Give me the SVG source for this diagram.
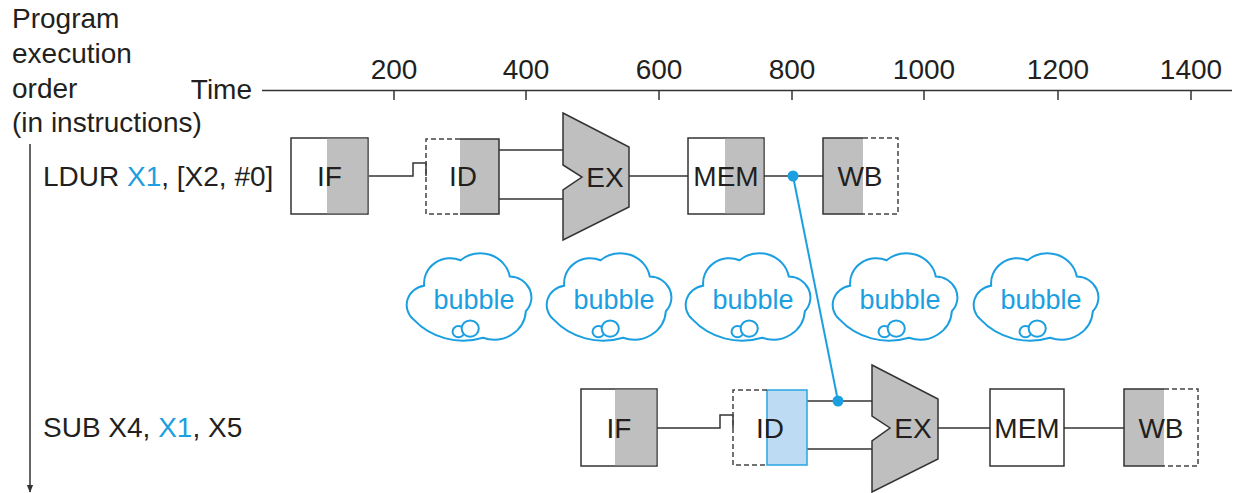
<svg xmlns="http://www.w3.org/2000/svg" width="1233" height="493" viewBox="0 0 1233 493">
<style>
text{font-family:"Liberation Sans",Arial,sans-serif;font-size:28px;fill:#231f20}
.c{text-anchor:middle}
.blue{fill:#1b9fe0}
.ln{stroke:#333;stroke-width:1.5;fill:none}
.box{stroke:#333;stroke-width:1.5;fill:#fff}
.gr{fill:#bebfbe}
.dash{stroke:#444;stroke-width:1.5;fill:none;stroke-dasharray:5 3}
.ex{fill:#bebfbe;stroke:#333;stroke-width:1.5}
.cloud{fill:#fff;stroke:#1b9fe0;stroke-width:2;vector-effect:non-scaling-stroke}
.bt{font-size:27px;fill:#1b9fe0;text-anchor:middle}
</style>
<defs>
<marker id="ah" viewBox="0 0 10 10" refX="9" refY="5" markerWidth="8" markerHeight="8" markerUnits="userSpaceOnUse" orient="auto"><path d="M0,1 L10,5 L0,9 Z" fill="#333"/></marker>
<g id="cloudshape">
<path class="cloud" d="M -50,20 A 19,19 0 0 1 -40,-13 A 24.5,24.5 0 0 1 -6,-38 A 28,28 0 0 1 40,-22 A 20.4,20.4 0 0 1 55,12 A 29.7,29.7 0 0 1 15,38 A 62,62 0 0 1 -50,20 Z"/>
<circle class="cloud" cx="-8" cy="32" r="5.5"/>
<circle class="cloud" cx="3" cy="29" r="8"/>
</g>
</defs>
<rect width="1233" height="493" fill="#fff"/>

<g id="labels">
<text x="12" y="28">Program</text>
<text x="12" y="63">execution</text>
<text x="12" y="98">order</text>
<text x="12" y="132">(in instructions)</text>
<text x="252" y="99" text-anchor="end">Time</text>
<text x="43" y="186">LDUR <tspan class="blue">X1</tspan>, [X2, #0]</text>
<text x="43" y="437">SUB X4, <tspan class="blue">X1</tspan>, X5</text>
</g>

<g id="axis">
<line class="ln" x1="262" y1="90.5" x2="1232" y2="90.5"/>
<g class="ln">
<line x1="394" y1="90.5" x2="394" y2="100"/>
<line x1="526" y1="90.5" x2="526" y2="100"/>
<line x1="659" y1="90.5" x2="659" y2="100"/>
<line x1="792" y1="90.5" x2="792" y2="100"/>
<line x1="924" y1="90.5" x2="924" y2="100"/>
<line x1="1058" y1="90.5" x2="1058" y2="100"/>
<line x1="1191" y1="90.5" x2="1191" y2="100"/>
</g>
<text class="c" x="394" y="79">200</text>
<text class="c" x="526" y="79">400</text>
<text class="c" x="659" y="79">600</text>
<text class="c" x="792" y="79">800</text>
<text class="c" x="924" y="79">1000</text>
<text class="c" x="1058" y="79">1200</text>
<text class="c" x="1191" y="79">1400</text>
<line class="ln" x1="30" y1="144" x2="30" y2="492" marker-end="url(#ah)"/>
</g>

<g id="connectors">
<polyline class="ln" points="369,176 413,176 413,163 426,163 426,176"/>
<line class="ln" x1="499" y1="150" x2="563" y2="150"/>
<line class="ln" x1="499" y1="199" x2="563" y2="199"/>
<line class="ln" x1="629" y1="176" x2="688" y2="176"/>
<line class="ln" x1="764" y1="176" x2="823" y2="176"/>
<polyline class="ln" points="657,428 720,428 720,415 733,415 733,428"/>
<line class="ln" x1="807" y1="401" x2="872" y2="401"/>
<line class="ln" x1="807" y1="449" x2="872" y2="449"/>
<line class="ln" x1="938" y1="428" x2="990" y2="428"/>
<line class="ln" x1="1064" y1="428" x2="1124" y2="428"/>
<line x1="793" y1="176" x2="838" y2="401" stroke="#1b9fe0" stroke-width="2"/>
<circle cx="793" cy="176" r="5.5" fill="#1b9fe0"/>
<circle cx="838" cy="401" r="5.5" fill="#1b9fe0"/>
</g>

<g id="if1">
<rect class="box" x="291" y="138" width="77" height="76"/>
<rect class="gr" x="327" y="138.75" width="40.25" height="74.5"/>
<text class="c" x="329.5" y="186">IF</text>
</g>
<g id="id1">
<rect class="gr" x="460" y="139" width="39" height="75"/>
<path class="dash" d="M460,139 H426 V214 H460"/>
<path class="ln" d="M460,139 H499 V214 H460"/>
<text class="c" x="463" y="186">ID</text>
</g>
<g id="ex1">
<polygon class="ex" points="563,113 629,147 629,207 563,240 563,190 582,177 563,165"/>
<text class="c" x="605" y="187">EX</text>
</g>
<g id="mem1">
<rect class="box" x="688" y="138" width="76" height="76"/>
<rect class="gr" x="725" y="138.75" width="38.25" height="74.5"/>
<text class="c" x="726" y="186">MEM</text>
</g>
<g id="wb1">
<rect class="gr" x="823" y="138" width="40" height="76"/>
<path class="ln" d="M863,138 H823 V214 H863"/>
<path class="dash" d="M863,138 H898 V214 H863"/>
<text class="c" x="860" y="186">WB</text>
</g>

<g id="bubbles">
<use href="#cloudshape" transform="translate(467,299) scale(1.07,1.02)"/>
<text class="bt" x="474" y="309">bubble</text>
<use href="#cloudshape" transform="translate(607,299) scale(1.07,1.02)"/>
<text class="bt" x="614" y="309">bubble</text>
<use href="#cloudshape" transform="translate(746,299) scale(1.07,1.02)"/>
<text class="bt" x="753" y="309">bubble</text>
<use href="#cloudshape" transform="translate(893,299) scale(1.07,1.02)"/>
<text class="bt" x="900" y="309">bubble</text>
<use href="#cloudshape" transform="translate(1034,299) scale(1.07,1.02)"/>
<text class="bt" x="1041" y="309">bubble</text>
</g>

<g id="if2">
<rect class="box" x="581" y="389" width="76" height="77"/>
<rect class="gr" x="615" y="389.75" width="41.25" height="75.5"/>
<text class="c" x="619" y="438">IF</text>
</g>
<g id="id2">
<rect x="767" y="390" width="40" height="75" fill="#bddcf4" stroke="#29a6e3" stroke-width="1.5"/>
<path class="dash" d="M767,390 H733 V465 H767"/>
<text class="c" x="770" y="438">ID</text>
</g>
<g id="ex2">
<polygon class="ex" points="872,365 938,399 938,459 872,492 872,441 890,428 872,416"/>
<text class="c" x="913" y="438">EX</text>
</g>
<g id="mem2">
<rect class="box" x="990" y="389" width="74" height="77"/>
<text class="c" x="1027" y="438">MEM</text>
</g>
<g id="wb2">
<rect class="gr" x="1124" y="389" width="40" height="77"/>
<path class="ln" d="M1164,389 H1124 V466 H1164"/>
<path class="dash" d="M1164,389 H1198 V466 H1164"/>
<text class="c" x="1161" y="438">WB</text>
</g>
</svg>
